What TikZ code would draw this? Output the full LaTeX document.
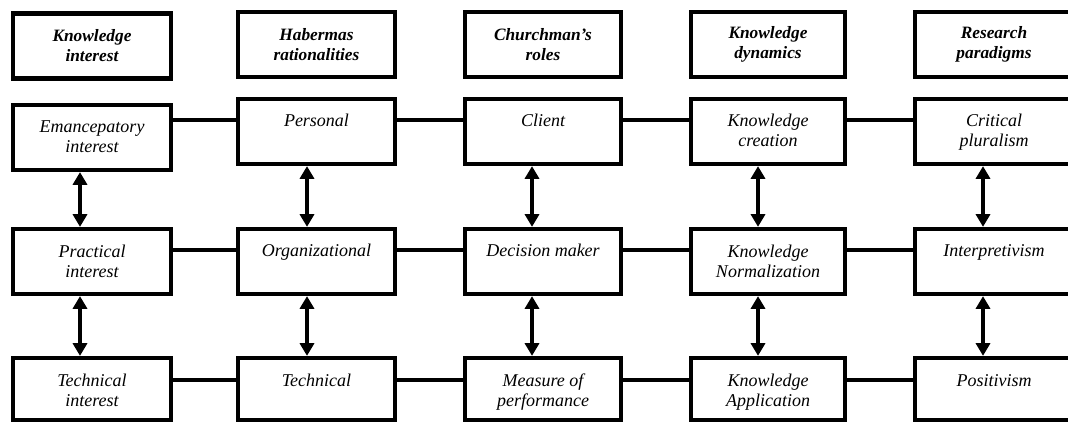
\documentclass[tikz,border=0pt]{standalone}
\usepackage{fontspec}
\setmainfont{Liberation Serif}
\usetikzlibrary{arrows.meta}

\begin{document}
\begin{tikzpicture}[x=0.75pt, y=-0.75pt,
  cell/.style={draw, line width=3.2pt, rectangle, inner sep=0pt},
  colA/.style={minimum width=118.5pt},
  colB/.style={minimum width=117.75pt},
  colC/.style={minimum width=117pt},
  colD/.style={minimum width=115.5pt},
  colE/.style={minimum width=118.5pt},
  tall/.style={minimum height=48.75pt},
  short/.style={minimum height=46.5pt},
  head/.style={cell, tall, align=center, font=\fontsize{13pt}{15pt}\selectfont\bfseries\itshape},
  % the base of a text node is the baseline of its last line
  txt/.style={anchor=base, inner sep=0pt, align=center, font=\fontsize{13.5pt}{15pt}\selectfont\itshape},
  link/.style={line width=2.6pt},
  twoway/.style={line width=3pt, {Triangle[width=10.5pt,length=9.5pt]}-{Triangle[width=10.5pt,length=9.5pt]}}
]
\useasboundingbox (0,0) rectangle (1068,424);

% column headers
\node[head, colA] (h1) at (92,46)      {Knowledge\\interest};
\node[head, colB] (h2) at (316.5,44.5) {Habermas\\rationalities};
\node[head, colC] (h3) at (543,44.5)   {Churchman’s\\roles};
\node[head, colD] (h4) at (768,44.5)   {Knowledge\\dynamics};
\node[head, colE] (h5) at (994,44.5)   {Research\\paradigms};

% first row
\node[cell, colA, tall] (a1) at (92,137.5)    {};
\node[cell, colB, tall] (b1) at (316.5,131.5) {};
\node[cell, colC, tall] (c1) at (543,131.5)   {};
\node[cell, colD, tall] (d1) at (768,131.5)   {};
\node[cell, colE, tall] (e1) at (994,131.5)   {};
\node[txt] (a1t) at (92,153)    {Emancepatory\\interest};
\node[txt] (b1t) at (316.5,127) {Personal};
\node[txt] (c1t) at (543,127)   {Client};
\node[txt] (d1t) at (768,147)   {Knowledge\\creation};
\node[txt] (e1t) at (994,147)   {Critical\\pluralism};

% second row
\node[cell, colA, tall] (a2) at (92,261.5)    {};
\node[cell, colB, tall] (b2) at (316.5,261.5) {};
\node[cell, colC, tall] (c2) at (543,261.5)   {};
\node[cell, colD, tall] (d2) at (768,261.5)   {};
\node[cell, colE, tall] (e2) at (994,261.5)   {};
\node[txt] (a2t) at (92,277)    {Practical\\interest};
\node[txt] (b2t) at (316.5,257) {Organizational};
\node[txt] (c2t) at (543,257)   {Decision maker};
\node[txt] (d2t) at (768,277)   {Knowledge\\Normalization};
\node[txt] (e2t) at (994,257)   {Interpretivism};

% third row
\node[cell, colA, short] (a3) at (92,389)    {};
\node[cell, colB, short] (b3) at (316.5,389) {};
\node[cell, colC, short] (c3) at (543,389)   {};
\node[cell, colD, short] (d3) at (768,389)   {};
\node[cell, colE, short] (e3) at (994,389)   {};
\node[txt] (a3t) at (92,406)    {Technical\\interest};
\node[txt] (b3t) at (316.5,386) {Technical};
\node[txt] (c3t) at (543,406)   {Measure of\\performance};
\node[txt] (d3t) at (768,406)   {Knowledge\\Application};
\node[txt] (e3t) at (994,386)   {Positivism};

% heights of the horizontal links and positions of the vertical arrows
\coordinate (ly1) at (0,120);
\coordinate (ly2) at (0,250);
\coordinate (ly3) at (0,380);
\coordinate (ax1) at (80,0);
\coordinate (ax2) at (307,0);
\coordinate (ax3) at (532,0);
\coordinate (ax4) at (758,0);
\coordinate (ax5) at (983,0);

% horizontal links
\foreach \r in {1,2,3} {
  \draw[link] (a\r.east |- ly\r) -- (b\r.west |- ly\r);
  \draw[link] (b\r.east |- ly\r) -- (c\r.west |- ly\r);
  \draw[link] (c\r.east |- ly\r) -- (d\r.west |- ly\r);
  \draw[link] (d\r.east |- ly\r) -- (e\r.west |- ly\r);
}

% vertical two-way arrows
\foreach \c [count=\i] in {a,b,c,d,e} {
  \draw[twoway] (\c1.south -| ax\i) -- (\c2.north -| ax\i);
  \draw[twoway] (\c2.south -| ax\i) -- (\c3.north -| ax\i);
}
\end{tikzpicture}
\end{document}
